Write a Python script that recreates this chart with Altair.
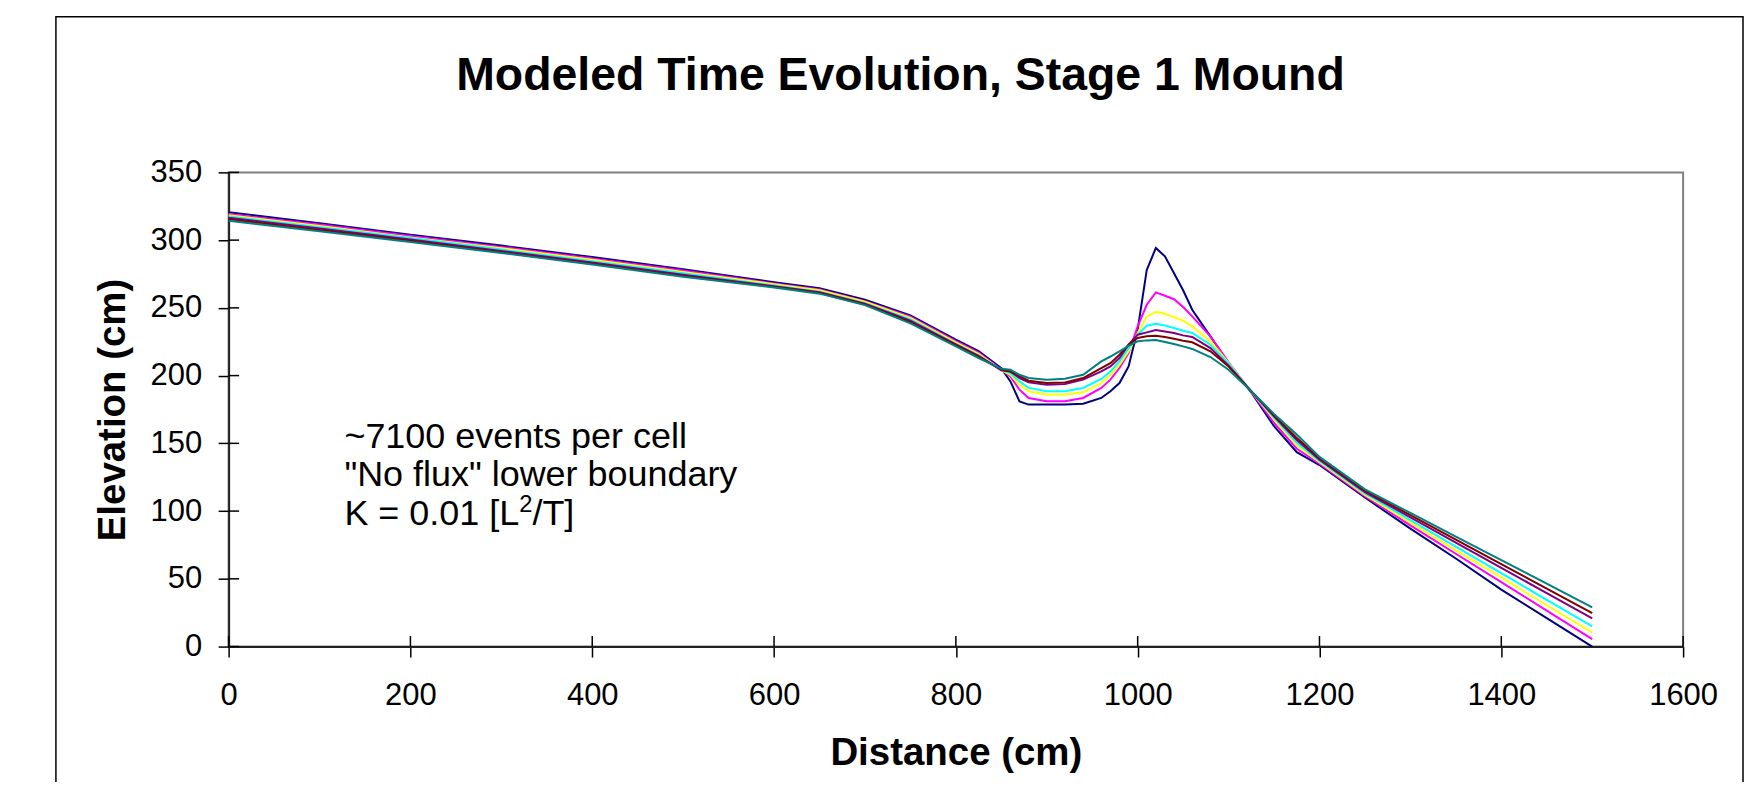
import altair as alt
import pandas as pd

TITLE = "Modeled Time Evolution, Stage 1 Mound"
X_TITLE = "Distance (cm)"
Y_TITLE = "Elevation (cm)"
NOTES = ["~7100 events per cell", "\"No flux\" lower boundary"]
NOTE_K = ["K = 0.01 [L", "2", "/T]"]
X_TICKS = [0, 200, 400, 600, 800, 1000, 1200, 1400, 1600]
Y_TICKS = [0, 50, 100, 150, 200, 250, 300, 350]

DISTANCE = [0, 100, 200, 300, 400, 500, 600,
            650, 700, 750, 800, 825, 850,
            860, 870, 880, 900, 920, 940, 960, 970, 980, 990,
            1000, 1010, 1020, 1030, 1040, 1050, 1060, 1080, 1100, 1125,
            1150, 1175, 1200, 1250, 1300, 1350, 1400, 1450, 1500]

SERIES = ["t0", "t1", "t2", "t3", "t4", "t5", "t6"]
COLORS = ["#000080", "#FF00FF", "#FFFF00", "#00FFFF", "#800080", "#800000", "#008080"]

ELEV_T0 = [320.5, 312.5, 304, 296, 287.5, 278.5, 269,
           264.5, 256, 244.5, 226.5, 218, 205.5,
           195.7, 181, 178.6, 178.6, 178.7, 179.3, 183.5, 188.4, 194.5, 206.8,
           233.9, 278, 294.2, 288, 275.6, 263, 248.6, 229, 209.3, 187.5,
           162.7, 143.5, 134, 110, 87, 65, 42, 21, 0]
ELEV_T1 = [319.3, 311.5, 303, 295, 286.5, 277.5, 268,
           263.5, 255, 243.5, 225.5, 217, 204.5,
           199.4, 189.6, 183.5, 181.1, 181.1, 183.5, 190.9, 197, 205.6, 216.6,
           236.4, 252.3, 261.4, 258.9, 256.4, 250.6, 243.7, 229, 209.8, 188,
           165.2, 146, 135, 111, 89.5, 68.5, 47.5, 26.5, 5.5]
ELEV_T2 = [318.3, 310.5, 302, 294, 285.5, 276.5, 267.5,
           263, 254.5, 242.5, 224.5, 216, 204,
           200.6, 193.3, 188.4, 186, 186, 187.7, 194.5, 200.6, 208, 217.9,
           231.5, 243.7, 247.1, 245.6, 243.2, 240.5, 236.4, 225.3, 209.3, 188.3,
           167.6, 148.5, 136, 112, 91.5, 71, 51, 30.5, 10.4]
ELEV_T3 = [317.5, 309.5, 301.5, 293, 284.5, 275.5, 266.5,
           262, 253.5, 241.5, 223.5, 215, 204,
           201.8, 195.7, 190.9, 188.4, 188.4, 190.9, 197.5, 203.1, 210.5, 220.3,
           230.2, 236.8, 238.3, 237, 235.1, 233.1, 231.5, 222.8, 208.8, 188.4,
           168.8, 150.5, 137, 113, 93.4, 73.8, 54.2, 34.5, 14.9]
ELEV_T4 = [316.5, 308.5, 300.5, 292, 283.5, 274.5, 266,
           261.5, 253, 240.5, 223, 214.5, 204,
           203, 198.2, 195, 193.3, 193.8, 197, 203.1, 206.8, 213, 222.8,
           230.2, 231.9, 233.6, 232.6, 231.4, 229.7, 228.5, 220.3, 207.3, 188.4,
           170, 152.5, 138, 114, 95.4, 76.7, 58.1, 39.4, 20.8]
ELEV_T5 = [315.5, 307.5, 299.5, 291, 282.5, 273.5, 265.5,
           261, 252.5, 239.5, 222.5, 214, 204.5,
           203, 199.4, 196.2, 194.5, 195, 198.2, 205.6, 209.2, 215.4, 222.8,
           227.8, 229, 229.5, 228.5, 227.2, 225.8, 224.6, 217.9, 206.8, 188.4,
           170.5, 154, 139, 115, 97, 78.9, 60.8, 42.8, 24.7]
ELEV_T6 = [314.3, 306.5, 298.7, 290.5, 282, 273, 265,
           260.5, 252, 238.5, 221.6, 213, 205,
           204.3, 200.6, 198.2, 197, 197.7, 200.6, 210.5, 214.1, 217.9, 222,
           225.3, 226, 226.3, 224.8, 223.3, 221.6, 219.7, 213.7, 204.3, 188.4,
           171.7, 156.5, 140, 116, 98.6, 81.2, 63.8, 46.4, 29]

W, H = 1457, 475
NOTE_SIZE = 36
NOTE_X = 116
NOTE_Y = 276
NOTE_LH = 38.5

rows = []
for name, vals in zip(SERIES, [ELEV_T0, ELEV_T1, ELEV_T2, ELEV_T3, ELEV_T4, ELEV_T5, ELEV_T6]):
    for x, y in zip(DISTANCE, vals):
        rows.append({"series": name, "distance": x, "elevation": y})
df = pd.DataFrame(rows)

xs = alt.Scale(domain=[0, 1600], nice=False, zero=False)
ys = alt.Scale(domain=[0, 350], nice=False, zero=False)

x_axis = alt.Axis(values=X_TICKS, format="d", title=X_TITLE, grid=False,
                  labelFontSize=31, labelPadding=24, labelColor="#000", labelFlush=False,
                  labelOverlap=False,
                  tickSize=10.5, tickColor="#000", tickWidth=1.5,
                  domainColor="#222", domainWidth=2,
                  titleFontSize=38.5, titleFontWeight="bold", titleColor="#000",
                  titleBaseline="alphabetic", titleAlign="center", titleX=W / 2, titleY=118)
y_axis = alt.Axis(values=Y_TICKS, format="d", title=Y_TITLE, grid=False,
                  labelFontSize=31, labelPadding=16.5, labelColor="#000",
                  labelOverlap=False,
                  tickSize=10.5, tickColor="#000", tickWidth=1.5,
                  domainColor="#222", domainWidth=2,
                  titleFontSize=38.5, titleFontWeight="bold", titleColor="#000",
                  titleAngle=270, titleBaseline="alphabetic", titleAlign="center",
                  titleX=-104, titleY=H / 2)

lines = alt.Chart(df).mark_line(strokeWidth=2).encode(
    x=alt.X("distance:Q", scale=xs, axis=x_axis),
    y=alt.Y("elevation:Q", scale=ys, axis=y_axis),
    color=alt.Color("series:N", scale=alt.Scale(domain=SERIES, range=COLORS), legend=None),
    detail="series:N",
)

x_in_ticks = alt.Chart(pd.DataFrame({"distance": X_TICKS})).mark_rule(
    color="#000", strokeWidth=1.5).encode(
    x=alt.X("distance:Q", scale=xs, axis=x_axis),
    y=alt.value(H), y2=alt.value(H - 10.5))

y_in_ticks = alt.Chart(pd.DataFrame({"elevation": Y_TICKS})).mark_rule(
    color="#000", strokeWidth=1.5).encode(
    y=alt.Y("elevation:Q", scale=ys, axis=y_axis),
    x=alt.value(0), x2=alt.value(10.5))

frame = alt.Chart(pd.DataFrame({"k": [0]})).mark_rect(
    fill="white", fillOpacity=0, stroke="#000", strokeWidth=1.5).encode(
    x=alt.value(-173), x2=alt.value(1517), y=alt.value(-156), y2=alt.value(H + 400))

title = alt.Chart(pd.DataFrame({"text": [TITLE]})).mark_text(
    fontSize=46.5, fontWeight="bold", align="center", baseline="alphabetic", color="#000").encode(
    x=alt.value(673), y=alt.value(-83), text="text:N")

notes = alt.Chart(pd.DataFrame({"text": ["\n".join(NOTES)]})).mark_text(
    fontSize=NOTE_SIZE, align="left", baseline="alphabetic", lineBreak="\n",
    lineHeight=NOTE_LH, color="#000").encode(
    x=alt.value(NOTE_X), y=alt.value(NOTE_Y), text="text:N")

# third note line: "K = 0.01 [L" + superscript "2" + "/T]"
k_base_y = NOTE_Y + 2 * NOTE_LH
w_main = 4.865 * NOTE_SIZE          # advance width of "K = 0.01 [L" (Arial metrics)
sup_size = NOTE_SIZE * 0.66
w_sup = 0.556 * sup_size
k_main = alt.Chart(pd.DataFrame({"text": [NOTE_K[0]]})).mark_text(
    fontSize=NOTE_SIZE, align="left", baseline="alphabetic", color="#000").encode(
    x=alt.value(NOTE_X), y=alt.value(k_base_y), text="text:N")
k_sup = alt.Chart(pd.DataFrame({"text": [NOTE_K[1]]})).mark_text(
    fontSize=sup_size, align="left", baseline="alphabetic", color="#000").encode(
    x=alt.value(NOTE_X + w_main), y=alt.value(k_base_y - NOTE_SIZE * 0.36), text="text:N")
k_end = alt.Chart(pd.DataFrame({"text": [NOTE_K[2]]})).mark_text(
    fontSize=NOTE_SIZE, align="left", baseline="alphabetic", color="#000").encode(
    x=alt.value(NOTE_X + w_main + w_sup), y=alt.value(k_base_y), text="text:N")

chart = alt.layer(frame, lines, x_in_ticks, y_in_ticks, title, notes,
                  k_main, k_sup, k_end).properties(
    width=W, height=H,
    padding={"left": 221, "top": 164, "right": 61, "bottom": 135},
    autosize=alt.AutoSizeParams(type="none"),
    background="white",
).configure(font="Liberation Sans").configure_view(stroke="#808080", strokeWidth=2)

chart.save("out.html", embed_options={"renderer": "svg", "actions": False})
